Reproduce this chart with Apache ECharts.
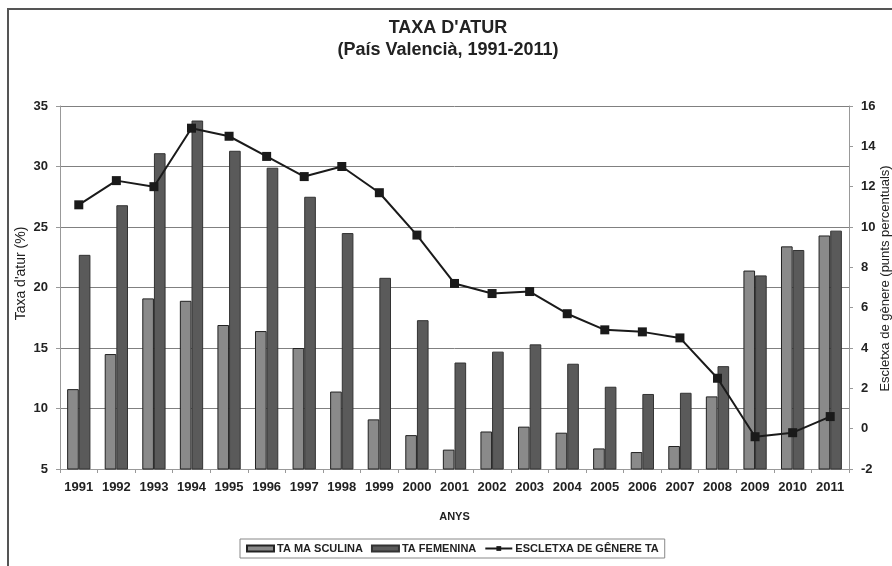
<!DOCTYPE html>
<html>
<head>
<meta charset="utf-8">
<script src="https://cdn.jsdelivr.net/npm/echarts@6/dist/echarts.min.js"></script>
<style>
html, body { margin: 0; padding: 0; background: #fff; }
#chartBox { width: 892px; height: 566px; }
</style>
</head>
<body>
<div id="chartBox"></div>
<script>
// dades llegides del gràfic
const anys = ['1991','1992','1993','1994','1995','1996','1997','1998','1999','2000','2001',
              '2002','2003','2004','2005','2006','2007','2008','2009','2010','2011'];
const taMasculina = [11.6, 14.5, 19.1, 18.9, 16.9, 16.4, 15.0, 11.4, 9.1, 7.8, 6.6,
                     8.1, 8.5, 8.0, 6.7, 6.4, 6.9, 11.0, 21.4, 23.4, 24.3];
const taFemenina = [22.7, 26.8, 31.1, 33.8, 31.3, 29.9, 27.5, 24.5, 20.8, 17.3, 13.8,
                    14.7, 15.3, 13.7, 11.8, 11.2, 11.3, 13.5, 21.0, 23.1, 24.7];
const escletxa = [11.1, 12.3, 12.0, 14.9, 14.5, 13.5, 12.5, 13.0, 11.7, 9.6, 7.2,
                  6.7, 6.8, 5.7, 4.9, 4.8, 4.5, 2.5, -0.4, -0.2, 0.6];

var chartDom = document.getElementById('chartBox');
var myChart = echarts.init(chartDom);

const txt = '#222';
const font = 'Liberation Sans, Arial, sans-serif';

var option = {
    animation: false,
    backgroundColor: '#fff',
    textStyle: { fontFamily: font },
    title: [
        {
            text: "TAXA D'ATUR",
            left: 443, top: 14, textAlign: 'center',
            textStyle: { fontSize: 18, fontWeight: 'bold', color: txt }
        },
        {
            text: '(País Valencià, 1991-2011)',
            left: 443, top: 36, textAlign: 'center',
            textStyle: { fontSize: 18, fontWeight: 'bold', color: txt }
        }
    ],
    graphic: [
        {
            type: 'rect',
            shape: { x: 8, y: 9, width: 900, height: 600 },
            style: { fill: 'none', stroke: '#555', lineWidth: 2 },
            silent: true
        }
    ],
    legend: {
        left: 240, top: 539,
        padding: [4, 6],
        borderColor: '#888', borderWidth: 1,
        itemWidth: 27, itemHeight: 6, itemGap: 8,
        textStyle: { fontSize: 11, fontWeight: 'bold', color: txt, padding: [0, 0, 0, -2] },
        data: [
            { name: 'TA MA SCULINA', icon: 'rect' },
            { name: 'TA FEMENINA', icon: 'rect' },
            { name: 'ESCLETXA DE GÊNERE TA' }
        ]
    },
    grid: { left: 60, right: 43, top: 106, bottom: 97, outerBoundsMode: 'none' },
    xAxis: {
        type: 'category',
        data: anys,
        name: 'ANYS',
        nameLocation: 'middle',
        nameGap: 42,
        nameTextStyle: { fontSize: 11, fontWeight: 'bold', color: txt },
        axisLine: { onZero: false, lineStyle: { color: '#999' } },
        axisTick: { show: true, length: 4, lineStyle: { color: '#999' } },
        axisLabel: { fontSize: 13, fontWeight: 'bold', color: txt, margin: 12, interval: 0 }
    },
    yAxis: [
        {
            type: 'value',
            min: 5, max: 35, interval: 5,
            name: "Taxa d'atur (%)",
            nameLocation: 'middle',
            nameRotate: 90,
            nameGap: 32,
            nameMoveOverlap: false,
            nameTextStyle: { fontSize: 14, color: txt, padding: [0, 0, 0, 28] },
            axisLine: { show: true, lineStyle: { color: '#999' } },
            axisTick: { show: true, length: 4, lineStyle: { color: '#999' } },
            axisLabel: { fontSize: 13, fontWeight: 'bold', color: txt, margin: 12 },
            splitLine: { show: true, lineStyle: { color: '#808080', width: 1 } }
        },
        {
            type: 'value',
            min: -2, max: 16, interval: 2,
            name: 'Escletxa de gènere (punts percentuals)',
            nameLocation: 'middle',
            nameRotate: 90,
            nameGap: 30,
            nameMoveOverlap: false,
            nameTextStyle: { fontSize: 13, color: txt, padding: [0, 0, 0, 18] },
            axisLine: { show: true, lineStyle: { color: '#999' } },
            axisTick: { show: true, length: 4, lineStyle: { color: '#999' } },
            axisLabel: { fontSize: 13, fontWeight: 'bold', color: txt, margin: 12 },
            splitLine: { show: false }
        }
    ],
    series: [
        {
            name: 'TA MA SCULINA',
            type: 'bar',
            data: taMasculina,
            barGap: '0%',
            barCategoryGap: '38%',
            itemStyle: { color: '#8a8a8a', borderColor: '#222', borderWidth: 1 }
        },
        {
            name: 'TA FEMENINA',
            type: 'bar',
            data: taFemenina,
            itemStyle: { color: '#5a5a5a', borderColor: '#333', borderWidth: 1 }
        },
        {
            name: 'ESCLETXA DE GÊNERE TA',
            type: 'line',
            yAxisIndex: 1,
            data: escletxa,
            symbol: 'rect',
            symbolSize: 9,
            z: 5,
            lineStyle: { color: '#1a1a1a', width: 2 },
            itemStyle: { color: '#1a1a1a' }
        }
    ]
};
myChart.setOption(option);
</script>
</body>
</html>
